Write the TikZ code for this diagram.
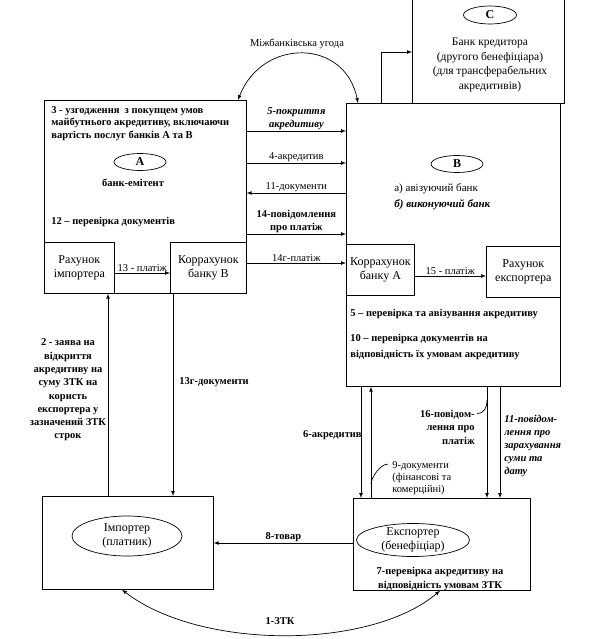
\documentclass[tikz,border=0pt]{standalone}
\usepackage{fontspec}
\setmainfont{Liberation Serif}
\usetikzlibrary{arrows,shapes.geometric}

\begin{document}
\begin{tikzpicture}[x=1pt,y=-1pt,>=latex,line width=0.7pt,
box/.style args={#1x#2}{draw,rectangle,anchor=north west,align=center,inner sep=1pt,
  minimum width=#1pt,minimum height=#2pt,font=\fontsize{12}{14}\selectfont},
oval/.style args={#1x#2}{draw,ellipse,inner sep=-2pt,align=center,
  minimum width=#1pt,minimum height=#2pt,font=\fontsize{12}{14}\selectfont},
lbl/.style={align=center,inner sep=1pt,font=\fontsize{10.5}{12.5}\selectfont},
blbl/.style={lbl,font=\bfseries\fontsize{10.5}{12.5}\selectfont},
ilbl/.style={lbl,font=\bfseries\itshape\fontsize{10.5}{12.5}\selectfont}]
\useasboundingbox (0,0) rectangle (600,639);
% banks and accounts
\node[box=202x193] (A) at (44,100) {};
\node[box=70x51] (ri) at (44,242) {Рахунок\\імпортера};
\node[box=76x51] (kb) at (170,242) {Коррахунок\\банку В};
\node[box=214x283] (B) at (346,103) {};
\node[box=68x51] (ka) at (346,244) {Коррахунок\\банку А};
\node[box=74x51] (re) at (486,246) {Рахунок\\експортера};
\node[box=152x115] (C) at (412,-12) {};
\node[box=171x93] (imp) at (42,496) {};
\node[box=177x92] (exp) at (353,498) {};
\node[oval=52x17,font=\bfseries\fontsize{12}{14}\selectfont] (ovA) at (140,162) {А};
\node[oval=52x17,font=\bfseries\fontsize{12}{14}\selectfont] (ovB) at (457,164) {В};
\node[oval=53x18,font=\bfseries\fontsize{12}{14}\selectfont] (ovC) at (490,15) {С};
\node[oval=110x40] (ovImp) at (127,536) {Імпортер\\(платник)};
\node[oval=113x33] (ovExp) at (413,540) {Експортер\\(бенефіціар)};
% texts inside the boxes
\node[blbl,anchor=north west,align=left] (t3) at (50,105) {3 - узгодження~ з покупцем умов\\майбутнього акредитиву, включаючи\\вартість послуг банків А та В};
\node[blbl] (tA) at (133,183) {банк-емітент};
\node[blbl,anchor=west] (t12) at (50,222) {12 -- перевірка документів};
\node[lbl,anchor=west,align=left,font=\fontsize{11}{16}\selectfont] (tB) at (393,197) {а) авізуючий банк\\\textbf{\textit{б) виконуючий банк}}};
\node[blbl,anchor=west] (t5b) at (349,314) {5 -- перевірка та авізування акредитиву};
\node[blbl,anchor=west,align=left,font=\bfseries\fontsize{10.5}{16}\selectfont] (t10) at (349,347) {10 -- перевірка документів на\\відповідність їх умовам акредитиву};
\node[lbl,font=\fontsize{11.5}{14.5}\selectfont] (tC) at (490,65) {Банк кредитора\\(другого бенефіціара)\\(для трансферабельних\\акредитивів)};
\node[blbl,font=\bfseries\fontsize{10.5}{14}\selectfont] (t7) at (440,579) {7-перевірка акредитиву на\\відповідність умовам ЗТК};
\node[lbl] (tM) at (297,44) {Міжбанківська угода};
% helper points
\coordinate (y5) at (0,131);
\coordinate (y4) at (0,163);
\coordinate (y11) at (0,193);
\coordinate (y14) at (0,234);
\coordinate (y14g) at (0,263);
\coordinate (y13) at (0,273);
\coordinate (y15) at (0,276);
\coordinate (y8) at (0,543);
\coordinate (x2) at (108,0);
\coordinate (x13g) at (173,0);
\coordinate (x6) at (361,0);
\coordinate (x9) at (371,0);
\coordinate (x16) at (487,0);
\coordinate (x11) at (500,0);
\coordinate (bc) at (381,52);
\coordinate (m1) at (238,0);
\coordinate (m2) at (358,0);
\coordinate (z1) at (122,0);
\coordinate (z2) at (440,0);
% flows between the banks
\draw[->] (A.east |- y5) -- (B.west |- y5) node[ilbl,midway,above] (l5) {5-покриття\\акредитиву};
\draw[->] (A.east |- y4) -- (B.west |- y4) node[lbl,midway,above] (l4) {4-акредитив};
\draw[->] (B.west |- y11) -- (A.east |- y11) node[lbl,midway,above] (l11) {11-документи};
\draw[->] (A.east |- y14) -- (B.west |- y14) node[blbl,midway,above] (l14) {14-повідомлення\\про платіж};
\draw[->] (kb.east |- y14g) -- (ka.west |- y14g) node[lbl,midway,above] (l14g) {14г-платіж};
\draw[->] (ri.east |- y13) -- (kb.west |- y13) node[lbl,midway,above] (l13) {13 - платіж};
\draw[->] (ka.east |- y15) -- (re.west |- y15) node[lbl,midway,above] (l15) {15 - платіж};
\draw[<->] (A.north -| m1) .. controls (262,38) and (345,38) .. (B.north -| m2);
\draw[->] (B.north -| bc) |- (C.west |- bc);
% flows with the clients
\draw[->] (imp.north -| x2) -- (ri.south -| x2);
\node[blbl,font=\bfseries\fontsize{10.5}{13.3}\selectfont] (l2) at (68,390) {2 - заява на\\відкриття\\акредитиву на\\суму ЗТК на\\користь\\експортера у\\зазначений ЗТК\\строк};
\draw[->] (kb.south -| x13g) -- (imp.north -| x13g);
\node[blbl,anchor=west] (l13g) at (178,382) {13г-документи};
\draw[->] (B.south -| x6) -- (exp.north -| x6);
\node[blbl,anchor=east,inner sep=0pt] (l6) at (362,435) {6-акредитив};
\draw[->] (exp.north -| x9) -- (B.south -| x9);
\node[lbl,anchor=west,align=left,font=\fontsize{10.5}{12}\selectfont] (l9) at (391,478) {9-документи\\(фінансові та\\комерційні)};
\draw (l9.north west) ++(-3,4) .. controls +(-8,0) and +(0,-6) .. (x9 |- 0,484);
\draw[->] (B.south -| x16) -- (exp.north -| x16);
\node[blbl,anchor=east,align=right,font=\bfseries\fontsize{10.5}{13.5}\selectfont] (l16) at (476,427) {16-повідом-\\лення про\\платіж};
\draw (l16.north east) ++(1,5) .. controls +(7,0) and +(0,8) .. (x16 |- 0,400);
\draw[->] (B.south -| x11) -- (exp.north -| x11);
\node[ilbl,anchor=west,align=left,font=\bfseries\itshape\fontsize{10.5}{13}\selectfont] (l11b) at (503,446) {11-повідом-\\лення про\\зарахування\\суми та\\дату};
\draw[->] (exp.west |- y8) -- (imp.east |- y8) node[blbl,midway,above] (l8) {8-товар};
\draw[<->] (imp.south -| z1) .. controls (200,650) and (370,650) .. (exp.south -| z2);
\node[blbl] (l1) at (280,621) {1-ЗТК};
\end{tikzpicture}
\end{document}
